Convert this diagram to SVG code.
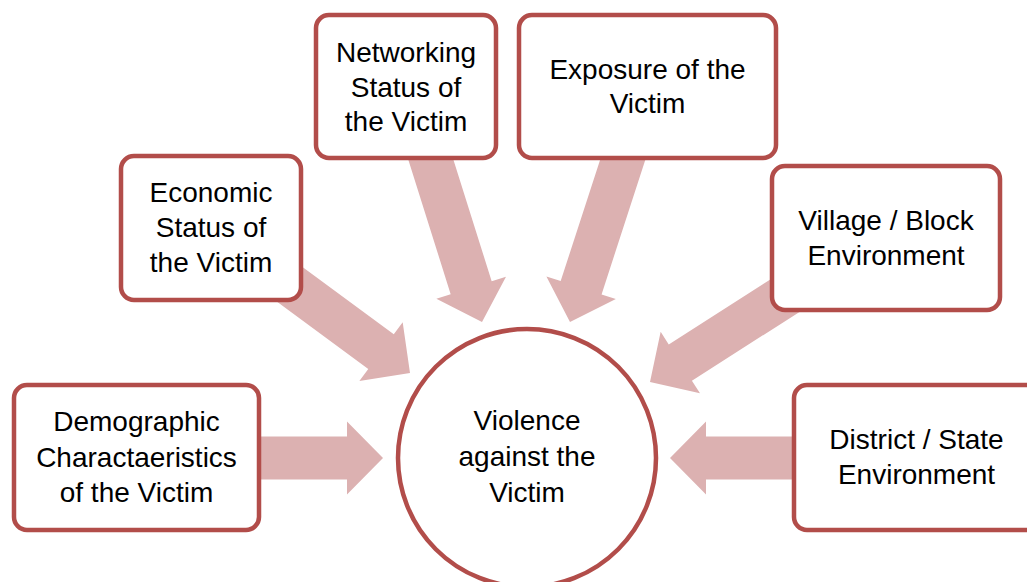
<svg xmlns="http://www.w3.org/2000/svg" width="1027" height="582" viewBox="0 0 1027 582">
<style>
.box{fill:#ffffff;stroke:#b24d4a;stroke-width:4.5}
.arr{fill:#dcb1b1}
text{font-family:"Liberation Sans",Arial,sans-serif;font-size:28px;fill:#000;text-anchor:middle}
</style>
<defs>
<polygon id="ah" points="-180,-21.5 -36,-21.5 -36,-36.5 0,0 -36,36.5 -36,21.5 -180,21.5"/>
<polygon id="ahs" points="-135,-21.5 -36,-21.5 -36,-36.5 0,0 -36,36.5 -36,21.5 -135,21.5"/>
</defs>
<rect width="1027" height="582" fill="#ffffff"/>
<g id="connectors" class="arr">
<use href="#ahs" transform="translate(383,458)"/>
<use href="#ah" transform="translate(410,373) rotate(36.4)"/>
<use href="#ah" transform="translate(482,322) rotate(72.5)"/>
<use href="#ah" transform="translate(570,322) rotate(108)"/>
<use href="#ah" transform="translate(650,382) rotate(147.4)"/>
<use href="#ahs" transform="translate(670,458) rotate(180)"/>
</g>
<g id="demographic">
<rect class="box" x="14" y="385" width="245" height="145" rx="13"/>
<text x="136.5" y="431">Demographic</text>
<text x="136.5" y="467">Charactaeristics</text>
<text x="136.5" y="502">of the Victim</text>
</g>
<g id="economic">
<rect class="box" x="121" y="156" width="180" height="144" rx="13"/>
<text x="211" y="202">Economic</text>
<text x="211" y="237">Status of</text>
<text x="211" y="272">the Victim</text>
</g>
<g id="networking">
<rect class="box" x="316" y="15" width="180" height="143" rx="13"/>
<text x="406" y="62">Networking</text>
<text x="406" y="97">Status of</text>
<text x="406" y="131">the Victim</text>
</g>
<g id="exposure">
<rect class="box" x="519" y="15" width="257" height="143" rx="13"/>
<text x="647.5" y="79">Exposure of the</text>
<text x="647.5" y="113">Victim</text>
</g>
<g id="village">
<rect class="box" x="772" y="166" width="228" height="144" rx="13"/>
<text x="886" y="230">Village / Block</text>
<text x="886" y="265">Environment</text>
</g>
<g id="district">
<rect class="box" x="794" y="385" width="260" height="145" rx="13"/>
<text x="916.5" y="449">District / State</text>
<text x="916.5" y="484">Environment</text>
</g>
<g id="violence">
<circle class="box" cx="527" cy="458" r="129"/>
<text x="527" y="430">Violence</text>
<text x="527" y="466">against the</text>
<text x="527" y="502">Victim</text>
</g>
</svg>
